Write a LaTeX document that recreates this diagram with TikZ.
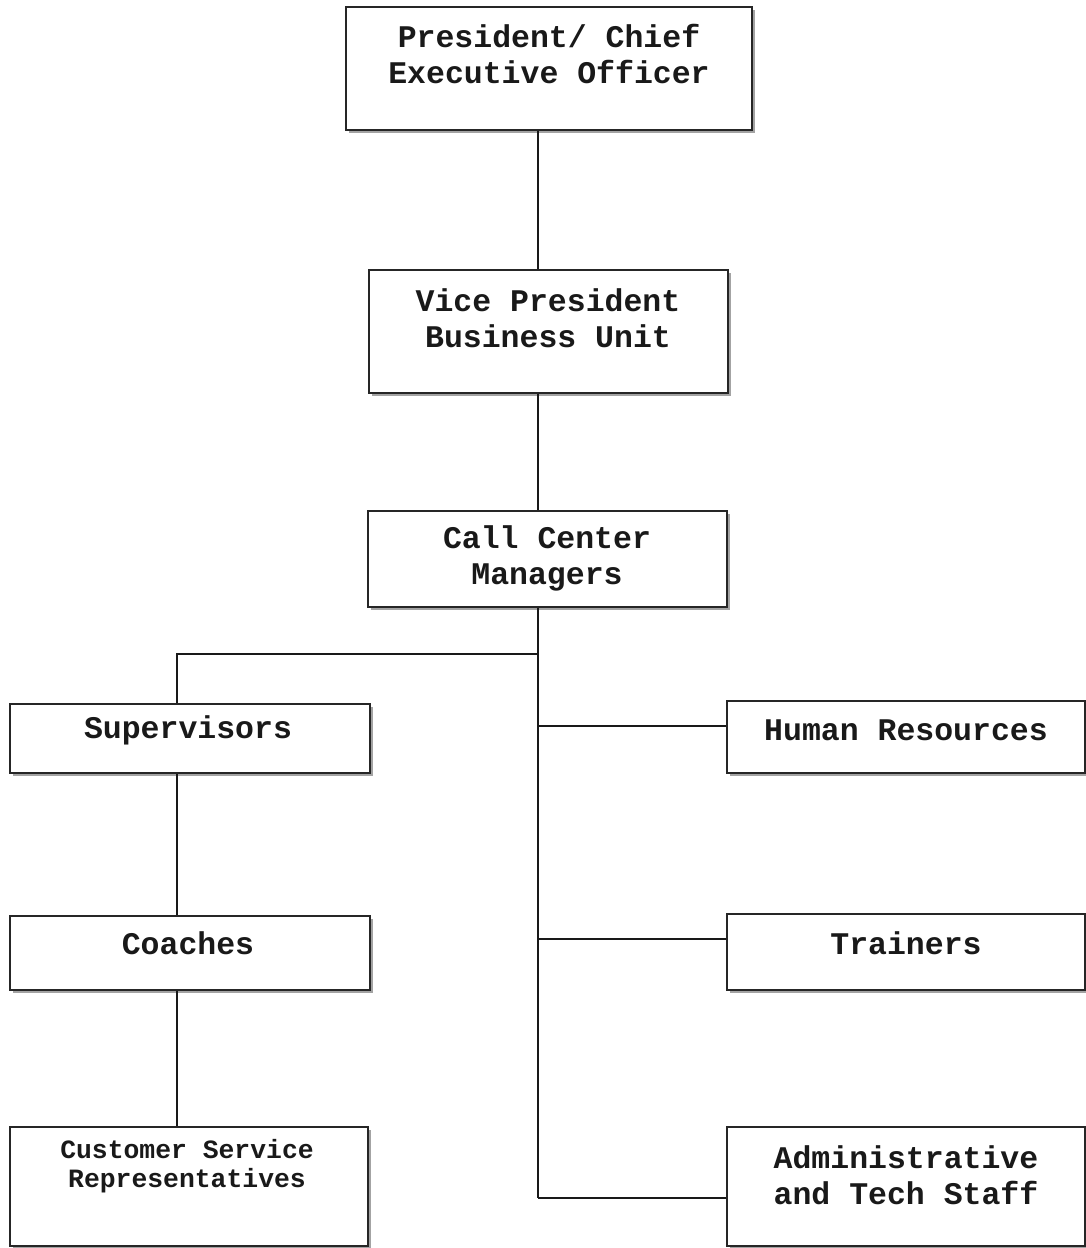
\documentclass[tikz,border=0pt]{standalone}
\usepackage{fontspec}
\usetikzlibrary{shadows}
\newfontfamily\orgfont{Liberation Mono}
\begin{document}
\begin{tikzpicture}[x=1pt,y=-1pt,
  box/.style={draw=black!85, line width=2pt, fill=white, rectangle, inner sep=0pt,
    drop shadow={shadow xshift=3pt, shadow yshift=-3pt, fill=black!45, opacity=0.8}},
  lbl/.style={font=\orgfont\bfseries\fontsize{31.5}{36}\selectfont, align=center, inner sep=0pt, text=black!90},
  small/.style={font=\orgfont\bfseries\fontsize{26.4}{29}\selectfont, align=center, inner sep=0pt, text=black!90},
  link/.style={draw=black!90, line width=2.8pt}]
\useasboundingbox (0,0) rectangle (1086,1248);
\fill[white] (0,0) rectangle (1086,1248);

% boxes
\node[box, minimum width=406pt, minimum height=123pt] (ceo) at (549,68.5) {};
\node[box, minimum width=359pt, minimum height=123pt] (vp) at (548.5,331.5) {};
\node[box, minimum width=359pt, minimum height=96pt] (ccm) at (547.5,559) {};
\node[box, minimum width=360pt, minimum height=69pt] (sup) at (190,738.5) {};
\node[box, minimum width=360pt, minimum height=74pt] (coach) at (190,953) {};
\node[box, minimum width=358pt, minimum height=119pt] (csr) at (189,1186.5) {};
\node[box, minimum width=358pt, minimum height=72pt] (hr) at (906,737) {};
\node[box, minimum width=358pt, minimum height=76pt] (trn) at (906,952) {};
\node[box, minimum width=358pt, minimum height=119pt] (adm) at (906,1186.5) {};

% labels
\node[lbl] (ceo-t) at (549,54) {President/ Chief\\Executive Officer};
\node[lbl] (vp-t) at (548,318.5) {Vice President\\Business Unit};
\node[lbl] (ccm-t) at (547,558) {Call Center\\Managers};
\node[lbl] (sup-t) at (188,730) {Supervisors};
\node[lbl] (coach-t) at (188,943) {Coaches};
\node[small] (csr-t) at (187,1166) {Customer Service\\Representatives};
\node[lbl] (hr-t) at (906,730) {Human Resources};
\node[lbl] (trn-t) at (906,943) {Trainers};
\node[lbl] (adm-t) at (906,1175) {Administrative\\and Tech Staff};

% junction points
\coordinate (j) at (538,654);
\coordinate (lx) at (177,654);
\coordinate (jhr) at (538,726);
\coordinate (jtr) at (538,939);
\coordinate (jad) at (538,1198);

% connectors
\draw[link] (ceo.south -| j) -- (vp.north -| j);
\draw[link] (vp.south -| j) -- (ccm.north -| j);
\draw[link] (ccm.south -| j) -- (jad);
\draw[link] (j) -- (lx) -- (lx |- sup.north);
\draw[link] (sup.south -| lx) -- (coach.north -| lx);
\draw[link] (coach.south -| lx) -- (csr.north -| lx);
\draw[link] (jhr) -- (jhr -| hr.west);
\draw[link] (jtr) -- (jtr -| trn.west);
\draw[link] (jad) -- (jad -| adm.west);
\end{tikzpicture}
\end{document}
